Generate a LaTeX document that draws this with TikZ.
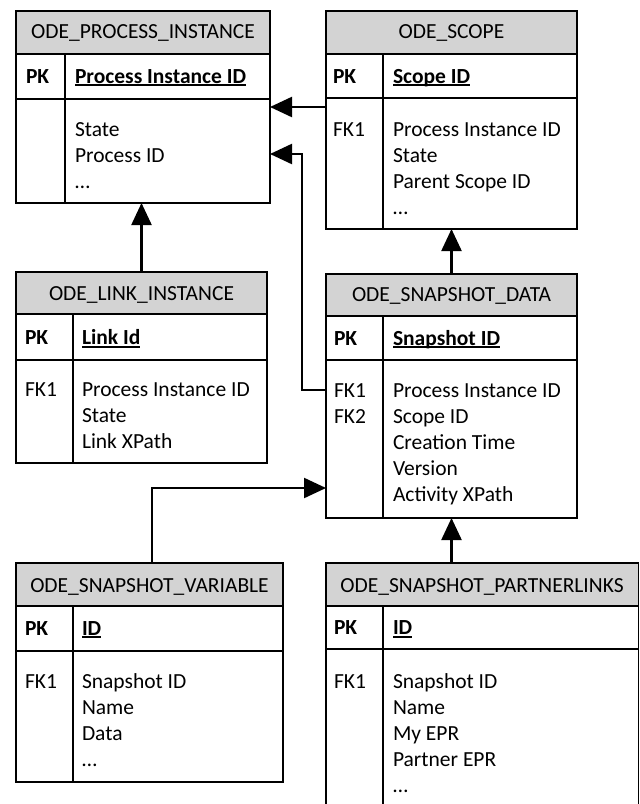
\documentclass[tikz,border=0pt]{standalone}
\usepackage{fontspec}
\setmainfont{Carlito}
\usetikzlibrary{arrows.meta,fit,calc}
\definecolor{hdrgray}{RGB}{211,211,211}
\newcommand\keyul[1]{\setbox0\hbox{#1}\rlap{\rule[-3pt]{\wd0}{1.6pt}}\box0}
\newcommand\ertable[8]{%
  \fill[hdrgray] (#2,#3) rectangle (#4,#6);
  \node[tbl, fit={(#2,#3) (#4,#5)}] (#1) {};
  \draw[tline] (#2,#6) -- (#4,#6);
  \draw[tline] (#2,#7) -- (#4,#7);
  \draw[tline] (#8,#6) -- (#8,#5);
}
\begin{document}
\begin{tikzpicture}[x=1pt,y=-1pt,
  tbl/.style={draw, line width=1.8pt, inner sep=0pt, outer sep=0pt},
  tline/.style={line width=1.8pt},
  txt/.style={inner sep=0pt, outer sep=0pt, font=\fontsize{21.5pt}{26pt}\selectfont},
  ttl/.style={txt, anchor=base},
  lbl/.style={txt, anchor=base west},
  arr/.style={line width=2.3pt, -{Triangle[length=22pt,width=20pt]}}]
\useasboundingbox (0,0) rectangle (640,804);

% ODE_PROCESS_INSTANCE
\ertable{pi}{16}{11}{270}{203}{54}{99}{65}
\node[ttl] (pi-t) at (143,38.5) {ODE\_PROCESS\_INSTANCE};
\node[lbl] (pi-pk) at (26,83) {\bfseries PK};
\node[lbl] (pi-k) at (75,83) {\bfseries\keyul{Process Instance ID}};
\foreach \t [count=\i from 0] in {State,Process ID,\ldots}
  \node[lbl] (pi-b\i) at (75,136.5+26*\i) {\t};

% ODE_SCOPE
\ertable{scope}{326}{11}{577}{229}{54}{98}{383}
\node[ttl] (sc-t) at (451.5,38.5) {ODE\_SCOPE};
\node[lbl] (sc-pk) at (333,83) {\bfseries PK};
\node[lbl] (sc-k) at (393,83) {\bfseries\keyul{Scope ID}};
\node[lbl] (sc-fk) at (333,136) {FK1};
\foreach \t [count=\i from 0] in {Process Instance ID,State,Parent Scope ID,\ldots}
  \node[lbl] (sc-b\i) at (393,136+26*\i) {\t};

% ODE_LINK_INSTANCE
\ertable{link}{16}{272}{267}{463}{314}{360}{73}
\node[ttl] (li-t) at (141.5,300) {ODE\_LINK\_INSTANCE};
\node[lbl] (li-pk) at (25,344.5) {\bfseries PK};
\node[lbl] (li-k) at (82,344.5) {\bfseries\keyul{Link Id}};
\node[lbl] (li-fk) at (25,396.5) {FK1};
\foreach \t [count=\i from 0] in {Process Instance ID,State,Link XPath}
  \node[lbl] (li-b\i) at (82,396.5+26*\i) {\t};

% ODE_SNAPSHOT_DATA
\ertable{snap}{326}{274}{577}{518}{316}{360}{383}
\node[ttl] (sd-t) at (451.5,301.5) {ODE\_SNAPSHOT\_DATA};
\node[lbl] (sd-pk) at (334,345) {\bfseries PK};
\node[lbl] (sd-k) at (393,345) {\bfseries\keyul{Snapshot ID}};
\node[lbl] (sd-fk1) at (334,397) {FK1};
\node[lbl] (sd-fk2) at (334,423) {FK2};
\foreach \t [count=\i from 0] in {Process Instance ID,Scope ID,Creation Time,Version,Activity XPath}
  \node[lbl] (sd-b\i) at (393,397+26*\i) {\t};

% ODE_SNAPSHOT_VARIABLE
\ertable{var}{16}{563}{283}{782}{606}{651}{73}
\node[ttl] (sv-t) at (149.5,592.5) {ODE\_SNAPSHOT\_VARIABLE};
\node[lbl] (sv-pk) at (25,635) {\bfseries PK};
\node[lbl] (sv-k) at (82,635) {\bfseries\keyul{ID}};
\node[lbl] (sv-fk) at (25,688) {FK1};
\foreach \t [count=\i from 0] in {Snapshot ID,Name,Data,\ldots}
  \node[lbl] (sv-b\i) at (82,688+26*\i) {\t};

% ODE_SNAPSHOT_PARTNERLINKS
\ertable{part}{326}{563}{638.5}{806}{606}{649}{383}
\node[ttl] (sp-t) at (482,592.5) {ODE\_SNAPSHOT\_PARTNERLINKS};
\node[lbl] (sp-pk) at (334,634.5) {\bfseries PK};
\node[lbl] (sp-k) at (393,634.5) {\bfseries\keyul{ID}};
\node[lbl] (sp-fk) at (334,688) {FK1};
\foreach \t [count=\i from 0] in {Snapshot ID,Name,My EPR,Partner EPR,\ldots}
  \node[lbl] (sp-b\i) at (393,688+26*\i) {\t};

% connectors
\draw[arr] ([yshift=-96pt]scope.north west) -- ([yshift=-96pt]pi.north east);
\draw[arr] ([yshift=-116pt]snap.north west) -- ++(-24,0) |- ([yshift=-143pt]pi.north east);
\draw[arr] (link.north) -- (link.north |- pi.south);
\draw[arr] (snap.north) -- (scope.south);
\draw[arr] ([xshift=2.5pt]var.north) |- ([yshift=-214pt]snap.north west);
\draw[arr] (part.north -| snap.south) -- (snap.south);
\end{tikzpicture}
\end{document}
